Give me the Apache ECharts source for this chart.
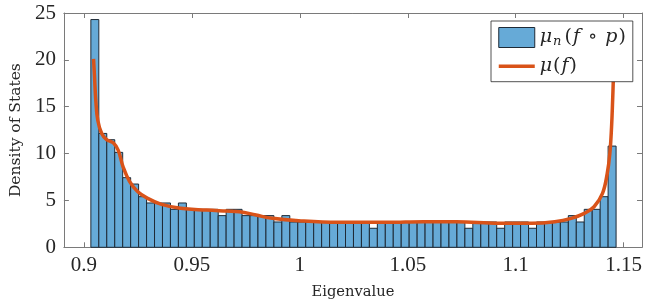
<!DOCTYPE html>
<html><head><meta charset="utf-8">
<script src="https://cdn.jsdelivr.net/npm/echarts@6/dist/echarts.min.js"></script>
<style>html,body{margin:0;padding:0;background:#fff}#c{width:648px;height:305px}</style>
</head><body><div id="c"></div>
<script>
// Histogram bins (equal width)
const binStart = 0.90319;
const binWidth = 0.0036864;
const binHeights = [
  24.3, 12.15, 11.48, 10.13, 7.43, 6.75, 5.4, 4.73, 4.73, 4.73,
  4.05, 4.73, 4.05, 4.05, 4.05, 4.05, 3.38, 4.05, 4.05, 3.38,
  3.38, 3.38, 3.38, 2.7, 3.38, 2.7, 2.7, 2.7, 2.7, 2.7,
  2.7, 2.7, 2.7, 2.7, 2.7, 2.03, 2.7, 2.7, 2.7, 2.7,
  2.7, 2.7, 2.7, 2.7, 2.7, 2.7, 2.7, 2.03, 2.7, 2.7,
  2.7, 2.03, 2.7, 2.7, 2.7, 2.03, 2.7, 2.7, 2.7, 2.7,
  3.38, 2.7, 4.05, 4.05, 5.4, 10.8
];
// Limiting density curve mu(f)
const curveX = [0.90443, 0.90488, 0.90547, 0.90639, 0.90821, 0.91049, 0.91355, 0.91583, 0.91811, 0.92117,
  0.92495, 0.92952, 0.93558, 0.94471, 0.95689, 0.966, 0.97208, 0.9797, 0.98732, 0.99945,
  1.0177, 1.0405, 1.0573, 1.0725, 1.0922, 1.1074, 1.1181, 1.1257, 1.1318, 1.1363,
  1.1402, 1.1424, 1.1436, 1.1444, 1.1449, 1.1452, 1.1455];
const curveY = [20.1, 18.2, 15.7, 13.56, 12.15, 11.5, 11.15, 10.37, 8.59, 7.0,
  5.92, 5.22, 4.61, 4.16, 3.97, 3.87, 3.8, 3.44, 3.09, 2.83,
  2.66, 2.66, 2.73, 2.73, 2.56, 2.56, 2.73, 3.09, 3.62, 4.33,
  5.75, 7.89, 10.0, 12.85, 15.7, 17.8, 20.1];
const xTicks = [0.9, 0.95, 1, 1.05, 1.1, 1.15];
const yTicks = [0, 5, 10, 15, 20, 25];
const xLabel = 'Eigenvalue';
const yLabel = 'Density of States';
const xMin = 0.8907, xMax = 1.1585;

const histData = binHeights.map((h, i) => [binStart + i * binWidth, binStart + (i + 1) * binWidth, h]);
const lineData = curveX.map((x, i) => [x, curveY[i]]);

const axisColor = '#7a7a7a';
const textColor = '#262626';
const barFill = '#66AAD7';
const barEdge = '#1e2a36';
const lineColor = '#D95319';
const tickFont = { fontFamily: 'Liberation Serif', fontSize: 21, color: textColor };

const chart = echarts.init(document.getElementById('c'), null, { renderer: 'canvas' });
chart.setOption({
  animation: false,
  backgroundColor: '#fff',
  grid: { left: 55, top: 13, width: 587, height: 234.3, containLabel: false },
  xAxis: [
    {
      type: 'value', min: xMin, max: xMax, position: 'bottom',
      name: xLabel, nameLocation: 'middle', nameGap: 37,
      nameTextStyle: { fontFamily: 'DejaVu Serif', fontSize: 14.7, color: textColor },
      axisLine: { show: true, onZero: false, lineStyle: { color: axisColor, width: 1 } },
      axisTick: { show: true, inside: true, length: 5, customValues: xTicks, lineStyle: { color: axisColor } },
      axisLabel: Object.assign({ margin: 8, customValues: xTicks, formatter: v => String(+v.toFixed(2)) }, tickFont),
      splitLine: { show: false }
    },
    {
      type: 'value', min: xMin, max: xMax, position: 'top',
      axisLine: { show: true, onZero: false, lineStyle: { color: axisColor, width: 1 } },
      axisTick: { show: true, inside: true, length: 5, customValues: xTicks, lineStyle: { color: axisColor } },
      axisLabel: { show: false },
      splitLine: { show: false }
    }
  ],
  yAxis: [
    {
      type: 'value', min: 0, max: 25, interval: 5, position: 'left',
      name: yLabel, nameLocation: 'middle', nameGap: 37, nameRotate: 90,
      nameTextStyle: { fontFamily: 'DejaVu Serif', fontSize: 15.5, color: textColor },
      axisLine: { show: true, onZero: false, lineStyle: { color: axisColor, width: 1 } },
      axisTick: { show: true, inside: true, length: 5, lineStyle: { color: axisColor } },
      axisLabel: Object.assign({ margin: 8 }, tickFont),
      splitLine: { show: false }
    },
    {
      type: 'value', min: 0, max: 25, interval: 5, position: 'right',
      axisLine: { show: true, onZero: false, lineStyle: { color: axisColor, width: 1 } },
      axisTick: { show: true, inside: true, length: 5, lineStyle: { color: axisColor } },
      axisLabel: { show: false },
      splitLine: { show: false }
    }
  ],
  legend: {
    left: 491, top: 21, orient: 'vertical',
    padding: [6, 7, 6, 6],
    itemWidth: 36, itemHeight: 20, itemGap: 8.7,
    backgroundColor: '#fff', borderColor: '#262626', borderWidth: 0.8,
    data: [
      { name: 'hist', icon: 'rect', itemStyle: { color: barFill, borderColor: barEdge, borderWidth: 1 } },
      { name: 'curve', itemStyle: { opacity: 0, color: 'rgba(0,0,0,0)', borderWidth: 0 }, lineStyle: { color: lineColor, width: 3.5 } }
    ],
    formatter: function (name) {
      if (name === 'hist') return '{i|μ}{s|n}{r|(}{i|f}{o|∘}{i|p}{r|)}';
      return '{i|μ}{r|(}{i|f}{r|)}';
    },
    textStyle: {
      color: textColor,
      rich: {
        i: { fontFamily: 'DejaVu Serif', fontStyle: 'italic', fontSize: 19, color: textColor },
        s: { fontFamily: 'DejaVu Serif', fontStyle: 'italic', fontSize: 13, color: textColor, verticalAlign: 'bottom', padding: [8, 2, 0, 1] },
        r: { fontFamily: 'DejaVu Serif', fontSize: 19, color: textColor, padding: [0, 1, 0, 1] },
        o: { fontFamily: 'DejaVu Serif', fontSize: 19, color: textColor, padding: [0, 8, 0, 8] }
      }
    }
  },
  series: [
    {
      name: 'hist', type: 'custom', xAxisIndex: 0, yAxisIndex: 0, z: 2,
      itemStyle: { color: barFill, borderColor: barEdge, borderWidth: 1 },
      data: histData,
      encode: { x: [0, 1], y: 2 },
      renderItem: function (params, api) {
        const p0 = api.coord([api.value(0), api.value(2)]);
        const p1 = api.coord([api.value(1), 0]);
        return {
          type: 'rect',
          shape: { x: p0[0], y: p0[1], width: p1[0] - p0[0], height: p1[1] - p0[1] },
          style: { fill: barFill, stroke: barEdge, lineWidth: 1, opacity: 1 }
        };
      }
    },
    {
      name: 'curve', type: 'line', xAxisIndex: 0, yAxisIndex: 0, z: 3,
      data: lineData, showSymbol: false, symbol: 'none',
      smooth: 0.4,
      lineStyle: { color: lineColor, width: 3.5, cap: 'butt', join: 'round' },
      itemStyle: { color: lineColor }
    }
  ]
});
</script>
</body></html>
